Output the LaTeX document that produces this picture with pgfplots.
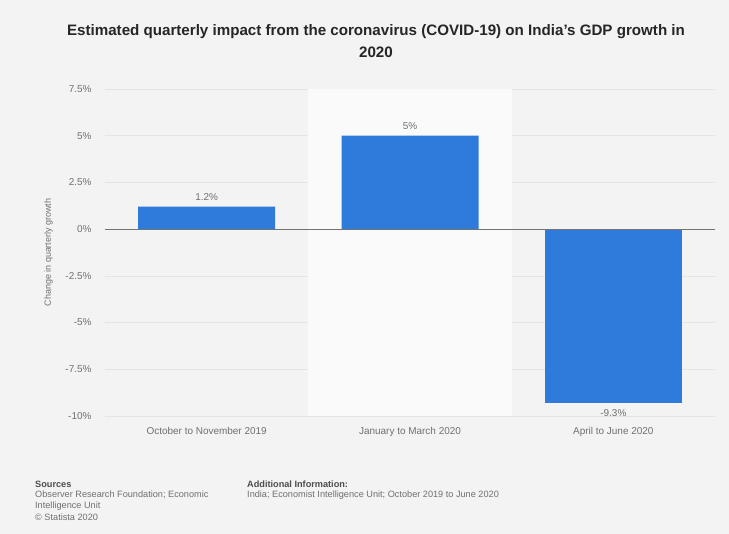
\documentclass[border=0pt]{standalone}
\usepackage{fontspec}
\setmainfont{Liberation Sans}
\usepackage{pgfplots}
\pgfplotsset{compat=1.18}
\definecolor{bg}{HTML}{F3F3F3}
\definecolor{hl}{HTML}{FAFAFA}
\definecolor{barblue}{HTML}{2E7BDB}
\definecolor{gridc}{HTML}{E4E4E4}
\definecolor{txt}{HTML}{707070}
\begin{document}
\begin{tikzpicture}[x=1bp,y=1bp]
\fill[bg] (0,0) rectangle (729,534);
\node[font=\bfseries\fontsize{15.2}{22}\selectfont, text=black!85, align=center] at (376,534-41) {Estimated quarterly impact from the coronavirus (COVID-19) on India's GDP growth in\\2020};
\begin{axis}[
  at={(105bp,118bp)}, anchor=south west,
  scale only axis, width=610bp, height=327bp,
  ymin=-10, ymax=7.5,
  xmin=-0.5, xmax=2.5,
  ytick={-10,-7.5,-5,-2.5,0,2.5,5,7.5},
  yticklabels={-10\%,-7.5\%,-5\%,-2.5\%,0\%,2.5\%,5\%,7.5\%},
  xtick={0,1,2},
  xticklabels={October to November 2019,January to March 2020,April to June 2020},
  axis line style={draw=none},
  major tick length=0pt,
  ymajorgrids, grid style={gridc, line width=0.6pt},
  tick label style={font=\fontsize{10}{12}\selectfont, text=txt},
  yticklabel style={xshift=-10bp},
  xticklabel style={yshift=-8bp},
  ylabel={Change in quarterly growth},
  ylabel style={font=\fontsize{9}{11}\selectfont, text=txt, yshift=6bp},
  ybar, bar width=137bp, bar shift=0pt,
  nodes near coords,
  point meta=explicit symbolic,
  every node near coord/.append style={font=\fontsize{10}{12}\selectfont, text=txt, inner sep=6bp},
  clip=false,
]
\fill[hl] (axis cs:0.5,-10) rectangle (axis cs:1.5,7.5);
\addplot[fill=barblue, draw=none] coordinates {(0,1.2) [1.2\%] (1,5) [5\%]};
\addplot[fill=barblue, draw=none, every node near coord/.append style={anchor=north}] coordinates {(2,-9.3) [-9.3\%]};
\draw[black!55, line width=0.8pt] (axis cs:-0.5,0) -- (axis cs:2.5,0);
\end{axis}
\begin{scope}[every node/.style={anchor=west, inner sep=0pt, font=\fontsize{9.2}{11}\selectfont, text=txt}]
\node[font=\bfseries\fontsize{9.2}{11}\selectfont, text=black!70] at (35,534-484) {Sources};
\node at (35,534-495) {Observer Research Foundation; Economic};
\node at (35,534-506) {Intelligence Unit};
\node at (35,534-517) {\textcopyright\ Statista 2020};
\node[font=\bfseries\fontsize{9.2}{11}\selectfont, text=black!70] at (247,534-484) {Additional Information:};
\node at (247,534-495) {India; Economist Intelligence Unit; October 2019 to June 2020};
\end{scope}
\path (0,0) rectangle (729,534);
\end{tikzpicture}
\end{document}
